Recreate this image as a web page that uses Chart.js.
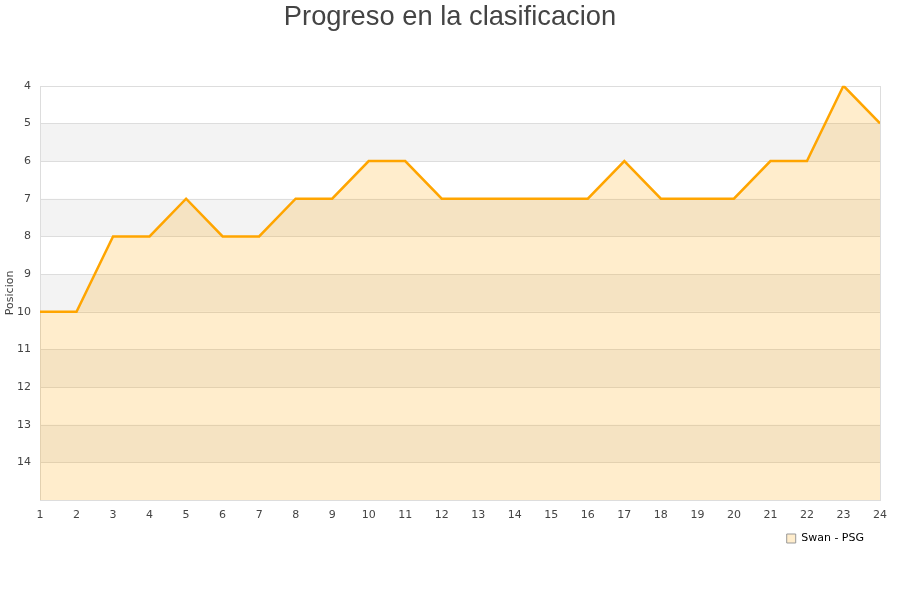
<!DOCTYPE html>
<html lang="es">
<head>
    <meta charset="UTF-8">
    <title>Progreso en la clasificacion</title>
    <script src="https://cdn.jsdelivr.net/npm/chart.js@4.4.1/dist/chart.umd.min.js"></script>
    <style>
        html, body {margin: 0; padding: 0; background: #fff; overflow: hidden;}
        #chartDom {width: 900px; height: 600px;}
    </style>
</head>
<body>
<div id="chartDom"><canvas id="clasificacion"></canvas></div>
<script>
    const jornadas = [1, 2, 3, 4, 5, 6, 7, 8, 9, 10, 11, 12, 13, 14, 15, 16, 17, 18, 19, 20, 21, 22, 23, 24];
    const posiciones = [10, 10, 8, 8, 7, 8, 8, 7, 7, 6, 6, 7, 7, 7, 7, 7, 6, 7, 7, 7, 6, 6, 4, 5];
    const posMin = 4, posMax = 15;

    // franjas grises alternas + marco del area
    const bandas = {
        id: 'bandas',
        afterLayout(chart) {
            // el titulo va centrado sobre todo el ancho
            if (chart.titleBlock) chart.titleBlock.right = chart.width;
            // leyenda un poco mas cerca del eje
            if (chart.legend) { chart.legend.top -= 6; chart.legend.bottom -= 6; }
        },
        beforeDatasetsDraw(chart) {
            const ctx = chart.ctx, a = chart.chartArea, y = chart.scales.y;
            ctx.save();
            ctx.fillStyle = '#f3f3f3';
            for (let v = posMin + 1; v < posMax; v += 2) {
                const y1 = y.getPixelForValue(v), y2 = y.getPixelForValue(v + 1);
                ctx.fillRect(a.left, y1, a.right - a.left, y2 - y1);
            }
            ctx.strokeStyle = '#dddddd';
            ctx.lineWidth = 1;
            for (let v = posMin; v <= posMax; v++) {
                const p = Math.round(y.getPixelForValue(v)) + 0.5;
                ctx.beginPath(); ctx.moveTo(a.left, p); ctx.lineTo(a.right, p); ctx.stroke();
            }
            ctx.strokeRect(Math.round(a.left) + 0.5, Math.round(a.top) + 0.5, Math.round(a.right - a.left), Math.round(a.bottom - a.top));
            ctx.restore();
        }
    };

    new Chart(document.getElementById('clasificacion'), {
        type: 'line',
        data: {
            labels: jornadas,
            datasets: [{
                label: 'Swan - PSG',
                data: posiciones,
                borderColor: '#ffa500',
                backgroundColor: 'rgba(255, 165, 0, 0.2)',
                borderWidth: 2.5,
                pointRadius: 0,
                tension: 0,
                fill: {value: posMax}
            }]
        },
        options: {
            responsive: true,
            maintainAspectRatio: false,
            animation: false,
            layout: {padding: {left: 0, right: 20, top: 0, bottom: 40}},
            plugins: {
                title: {
                    display: true,
                    text: 'Progreso en la clasificacion',
                    color: '#444',
                    font: {family: 'Liberation Sans', size: 27.3, weight: 'normal'},
                    padding: {top: 1, bottom: 52}
                },
                legend: {
                    position: 'bottom',
                    align: 'end',
                    labels: {
                        color: '#222',
                        font: {family: 'DejaVu Sans', size: 11},
                        boxWidth: 9,
                        boxHeight: 9,
                        padding: 16,
                        generateLabels: () => [{
                            text: 'Swan - PSG',
                            fillStyle: '#ffedcc',
                            strokeStyle: '#999',
                            lineWidth: 1,
                            datasetIndex: 0
                        }]
                    }
                },
                tooltip: {enabled: false}
            },
            scales: {
                x: {
                    type: 'linear',
                    min: 1,
                    max: 24,
                    grid: {display: false},
                    border: {display: false},
                    ticks: {
                        stepSize: 1,
                        color: '#444',
                        font: {family: 'DejaVu Sans', size: 11, lineHeight: 1.0},
                        padding: 2
                    }
                },
                y: {
                    reverse: true,
                    min: posMin,
                    max: posMax,
                    grid: {display: false, drawTicks: false},
                    border: {display: false},
                    afterFit: (s) => { s.width = 40; },
                    title: {
                        display: true,
                        text: 'Posicion',
                        color: '#444',
                        font: {family: 'DejaVu Sans', size: 11},
                        padding: {top: 4, bottom: 0}
                    },
                    ticks: {
                        stepSize: 1,
                        color: '#444',
                        font: {family: 'DejaVu Sans', size: 11},
                        padding: 9,
                        callback: (v) => v === posMax ? '' : v
                    }
                }
            }
        },
        plugins: [bandas]
    });
</script>
</body>
</html>
